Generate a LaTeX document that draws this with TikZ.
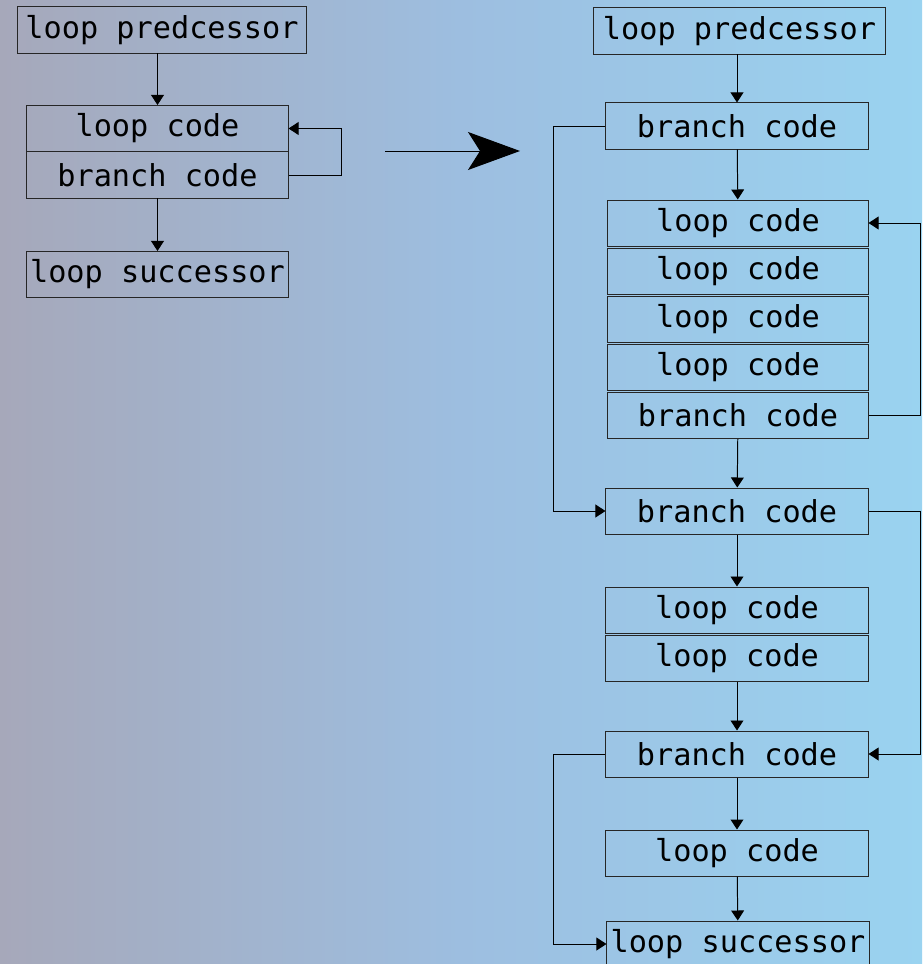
\documentclass[tikz,border=0pt]{standalone}
\usepackage{fontspec}
\setmonofont{DejaVu Sans Mono}
\usetikzlibrary{arrows.meta}
\definecolor{bgleft}{RGB}{166,168,186}
\definecolor{bgmid}{RGB}{157,190,224}
\definecolor{bgright}{RGB}{154,211,240}
\begin{document}
\begin{tikzpicture}[x=0.025cm, y=-0.025cm, line width=0.7pt,
    blk/.style={draw=black!85, minimum width=6.55cm, minimum height=1.15cm,
      inner sep=0pt, font=\ttfamily\fontsize{21.5}{24}\selectfont},
    wide/.style={blk, minimum width=7.25cm},
    arr/.style={-{Triangle[length=0.25cm, width=0.32cm]}}]
    % background
    \shade[left color=bgleft, right color=bgright, middle color=bgmid]
      (0,0) rectangle (922,964);
    \useasboundingbox (0,0) rectangle (922,964);

    % before
    \node (lpred) [wide, minimum width=7.2cm] at (162,30) {loop predcessor};
    \node (lloop) [blk, minimum width=6.525cm] at (157.5,128.5) {loop code};
    \node (lbranch) [blk, minimum width=6.525cm] at (157.5,175) {branch code};
    \node (lsucc) [blk, minimum width=6.525cm] at (157.5,274.5) {loop successor};
    \draw[arr] (lpred.south -| lloop) -- (lloop);
    \draw[arr] (lbranch) -- (lsucc);
    \draw[arr] (lbranch.east) -- ++(53,0) |- (lloop.east);

    % big arrow
    \coordinate (gofrom) at (385,151);
    \coordinate (goto) at (520,151);
    \draw[-{Stealth[length=1.3cm, width=0.95cm, inset=0.3cm]}] (gofrom) -- (goto);

    % after
    \node (rpred) [wide, minimum width=7.275cm] at (739.5,31) {loop predcessor};
    \node (rb1) [blk] at (737,126) {branch code};
    \node (rl1) [blk, minimum width=6.5cm] at (738,223) {loop code};
    \node (rl2) [blk, minimum width=6.5cm] at (738,271) {loop code};
    \node (rl3) [blk, minimum width=6.5cm] at (738,319) {loop code};
    \node (rl4) [blk, minimum width=6.5cm] at (738,367) {loop code};
    \node (rb2) [blk, minimum width=6.5cm] at (738,415.5) {branch code};
    \node (rb3) [blk] at (737,511) {branch code};
    \node (rl5) [blk] at (737,610) {loop code};
    \node (rl6) [blk] at (737,658) {loop code};
    \node (rb4) [blk] at (737,754) {branch code};
    \node (rl7) [blk] at (737,853) {loop code};
    \node (rsucc) [blk] at (738,944) {loop successor};

    \draw[arr] (rpred.south -| rb1) -- (rb1);
    \draw[arr] (rb1) -- (rl1);
    \draw[arr] (rb2) -- (rb3);
    \draw[arr] (rb3) -- (rl5);
    \draw[arr] (rl6) -- (rb4);
    \draw[arr] (rb4) -- (rl7);
    \draw[arr] (rl7) -- (rsucc);

    \draw[arr] (rb1.west) -- ++(-52,0) |- (rb3.west);
    \draw[arr] (rb2.east) -- ++(52,0) |- (rl1.east);
    \draw[arr] (rb3.east) -- ++(52,0) |- (rb4.east);
    \draw[arr] (rb4.west) -- ++(-52,0) |- (rsucc.west);
\end{tikzpicture}
\end{document}
